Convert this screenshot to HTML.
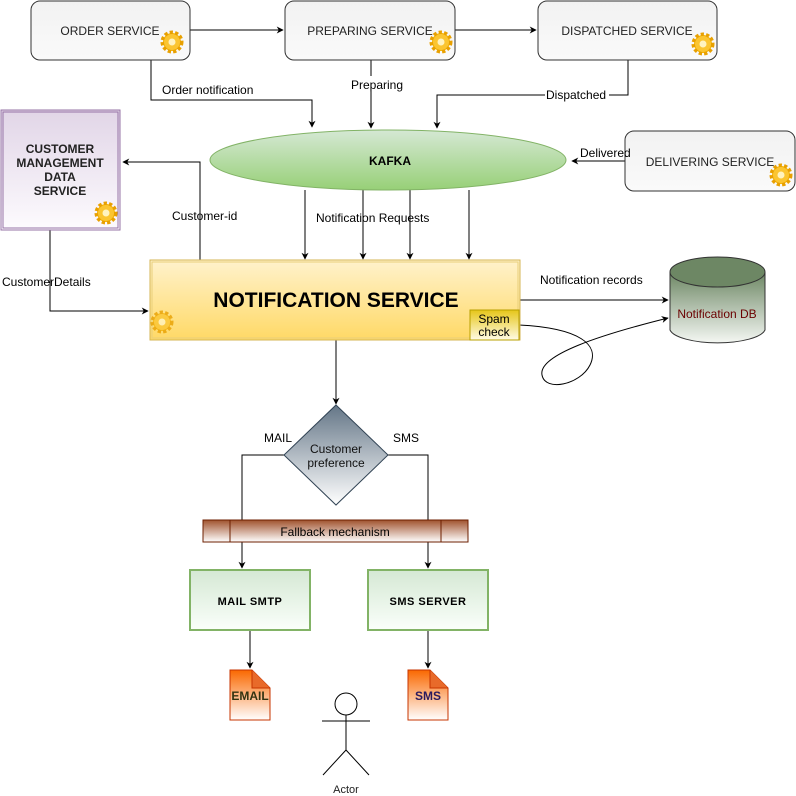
<!DOCTYPE html>
<html><head><meta charset="utf-8"><style>
html,body{margin:0;padding:0;background:#fff;}
svg{display:block;font-family:"Liberation Sans",Arial,sans-serif;}
</style></head><body>
<svg width="796" height="796" viewBox="0 0 796 796" xmlns="http://www.w3.org/2000/svg">
<defs>
<linearGradient id="gs" x1="0" y1="0" x2="0" y2="1"><stop offset="0" stop-color="#f2f2f2"/><stop offset="1" stop-color="#fafafa"/></linearGradient>
<linearGradient id="gk" x1="0" y1="0" x2="0" y2="1"><stop offset="0" stop-color="#d5e8d4"/><stop offset="1" stop-color="#97d077"/></linearGradient>
<linearGradient id="gp" x1="0" y1="0" x2="0" y2="1"><stop offset="0" stop-color="#e1d5e7"/><stop offset="1" stop-color="#fdfbfe"/></linearGradient>
<linearGradient id="gn" x1="0" y1="0" x2="0" y2="1"><stop offset="0" stop-color="#fff2cc"/><stop offset="1" stop-color="#ffd966"/></linearGradient>
<linearGradient id="gsp" x1="0" y1="0" x2="0" y2="1"><stop offset="0" stop-color="#e6c619"/><stop offset="1" stop-color="#fffbe6"/></linearGradient>
<linearGradient id="gdb" x1="0" y1="0" x2="0" y2="1"><stop offset="0" stop-color="#6d8764"/><stop offset="1" stop-color="#f4f7f3"/></linearGradient>
<linearGradient id="gd" x1="0" y1="0" x2="0" y2="1"><stop offset="0" stop-color="#647687"/><stop offset="1" stop-color="#ffffff"/></linearGradient>
<linearGradient id="gf" x1="0" y1="0" x2="0" y2="1"><stop offset="0" stop-color="#a0522d"/><stop offset="1" stop-color="#fff"/></linearGradient>
<linearGradient id="gg" x1="0" y1="0" x2="0" y2="1"><stop offset="0" stop-color="#d5e8d4"/><stop offset="1" stop-color="#fafffa"/></linearGradient>
<linearGradient id="go" x1="0" y1="0" x2="0" y2="1"><stop offset="0" stop-color="#fa6800"/><stop offset="1" stop-color="#fff"/></linearGradient>
<marker id="a" viewBox="0 0 10 10" refX="9" refY="5" markerWidth="7" markerHeight="7" orient="auto"><path d="M0,0 L10,5 L0,10 L3,5z" fill="#000"/></marker>
<g id="gear"><circle r="9" fill="#f5b400" stroke="#e8a000" stroke-dasharray="3 2" stroke-width="5"/><circle r="8" fill="#fbc531"/><circle r="3.5" fill="#fff3c0"/></g>
</defs>
<g stroke="#000" fill="none" stroke-width="1">
<path d="M190,30H283" marker-end="url(#a)"/>
<path d="M455,30H536" marker-end="url(#a)"/>
<path d="M151,60V100H312V127" marker-end="url(#a)"/>
<path d="M371,60V128" marker-end="url(#a)"/>
<path d="M628,60V95H437V128" marker-end="url(#a)"/>
<path d="M625,161H572" marker-end="url(#a)"/>
<path d="M200,260V162H123" marker-end="url(#a)"/>
<path d="M305,190V259" marker-end="url(#a)"/>
<path d="M363,190V259" marker-end="url(#a)"/>
<path d="M410,190V259" marker-end="url(#a)"/>
<path d="M469,190V259" marker-end="url(#a)"/>
<path d="M50,230V311H148" marker-end="url(#a)"/>
<path d="M520,300H668" marker-end="url(#a)"/>
<path d="M519,325C580,328 600,345 590,365C580,385 545,392 542,375C538,355 600,335 668,318" marker-end="url(#a)"/>
<path d="M336,340V404" marker-end="url(#a)"/>
<path d="M284,455H242V568" marker-end="url(#a)"/>
<path d="M388,455H428V568" marker-end="url(#a)"/>
<path d="M250,630V668" marker-end="url(#a)"/>
<path d="M428,630V668" marker-end="url(#a)"/>
</g>
<!-- top services -->
<rect x="31" y="1" width="159" height="59" rx="9" fill="url(#gs)" stroke="#333"/>
<rect x="285" y="1" width="170" height="59" rx="9" fill="url(#gs)" stroke="#333"/>
<rect x="538" y="1" width="179" height="59" rx="9" fill="url(#gs)" stroke="#333"/>
<rect x="625" y="131" width="170" height="60" rx="9" fill="url(#gs)" stroke="#333"/>
<g font-size="12" fill="#222" text-anchor="middle">
<text x="110" y="35">ORDER SERVICE</text>
<text x="370" y="35">PREPARING SERVICE</text>
<text x="627" y="35">DISPATCHED SERVICE</text>
<text x="710" y="166">DELIVERING SERVICE</text>
</g>
<use href="#gear" x="172" y="42"/><use href="#gear" x="441" y="42"/><use href="#gear" x="703" y="44"/><use href="#gear" x="781" y="175"/>
<!-- kafka -->
<ellipse cx="388" cy="160" rx="178" ry="30" fill="url(#gk)" stroke="#82b366"/>
<text x="390" y="165" font-size="12" font-weight="bold" text-anchor="middle">KAFKA</text>
<!-- CMDS -->
<rect x="1" y="110" width="119" height="120" fill="url(#gp)" stroke="#9673a6"/>
<rect x="3" y="112" width="115" height="116" fill="none" stroke="#9673a6"/>
<g font-size="12" font-weight="bold" fill="#222" text-anchor="middle">
<text x="60" y="153">CUSTOMER</text><text x="60" y="167">MANAGEMENT</text><text x="60" y="181">DATA</text><text x="60" y="195">SERVICE</text>
</g>
<use href="#gear" x="106" y="213"/>
<!-- notification service -->
<rect x="150" y="260" width="370" height="80" fill="url(#gn)" stroke="#d6b656"/>
<rect x="152" y="262" width="366" height="76" fill="none" stroke="#e8cf7a"/>
<text x="336" y="307" font-size="21" font-weight="bold" text-anchor="middle">NOTIFICATION SERVICE</text>
<use href="#gear" x="162" y="322" opacity="0.8"/>
<rect x="470" y="310" width="49" height="30" fill="url(#gsp)" stroke="#b8a000"/>
<text x="494" y="323" font-size="12" text-anchor="middle">Spam</text><text x="494" y="336" font-size="12" text-anchor="middle">check</text>
<!-- db -->
<path d="M670,272V330A48,15 0 0 0 765,330V272" fill="url(#gdb)" stroke="#333"/>
<ellipse cx="717.5" cy="272" rx="47.5" ry="15" fill="#6d8764" stroke="#333"/>
<text x="717" y="318" font-size="12" fill="#6b0000" text-anchor="middle">Notification DB</text>
<!-- diamond -->
<path d="M336,405L388,455L336,505L284,455z" fill="url(#gd)" stroke="#314354"/>
<text x="336" y="453" font-size="12" text-anchor="middle" fill="#111">Customer</text>
<text x="336" y="467" font-size="12" text-anchor="middle" fill="#111">preference</text>
<!-- fallback -->
<rect x="203" y="520" width="265" height="22" fill="url(#gf)" stroke="#6d1f00"/>
<path d="M230,520V542M441,520V542" stroke="#6d1f00"/>
<text x="335" y="536" font-size="12" text-anchor="middle">Fallback mechanism</text>
<!-- green boxes -->
<rect x="190" y="570" width="120" height="60" fill="url(#gg)" stroke="#82b366" stroke-width="2"/>
<rect x="368" y="570" width="120" height="60" fill="url(#gg)" stroke="#82b366" stroke-width="2"/>
<text x="250" y="605" font-size="11" font-weight="bold" text-anchor="middle" letter-spacing="0.5">MAIL SMTP</text>
<text x="428" y="605" font-size="11" font-weight="bold" text-anchor="middle" letter-spacing="0.5">SMS SERVER</text>
<!-- docs -->
<path d="M230,670H252L270,688V720H230z" fill="url(#go)" stroke="#c73500"/>
<path d="M252,670V688H270" fill="#e86a2a" stroke="#c73500"/>
<path d="M408,670H430L448,688V720H408z" fill="url(#go)" stroke="#c73500"/>
<path d="M430,670V688H448" fill="#e86a2a" stroke="#c73500"/>
<text x="250" y="700" font-size="12" font-weight="bold" fill="#331" text-anchor="middle">EMAIL</text>
<text x="428" y="700" font-size="12" font-weight="bold" fill="#2a1a5e" text-anchor="middle">SMS</text>
<!-- actor -->
<g stroke="#000" fill="none">
<circle cx="346" cy="704" r="11"/>
<path d="M346,715V750M322,721H370M346,750L323,775M346,750L369,775"/>
</g>
<text x="346" y="793" font-size="11" text-anchor="middle" fill="#222">Actor</text>
<!-- labels -->
<g font-size="12" fill="#000">
<text x="162" y="94">Order notification</text>
<rect x="350" y="76" width="58" height="14" fill="#fff"/><text x="351" y="89">Preparing</text>
<rect x="545" y="88" width="64" height="14" fill="#fff"/><text x="546" y="99">Dispatched</text>
<text x="580" y="157">Delivered</text>
<text x="172" y="220">Customer-id</text>
<text x="316" y="222">Notification Requests</text>
<text x="2" y="286">CustomerDetails</text>
<text x="540" y="284">Notification records</text>
<text x="264" y="442">MAIL</text>
<text x="393" y="442">SMS</text>
</g>
</svg>
</body></html>
